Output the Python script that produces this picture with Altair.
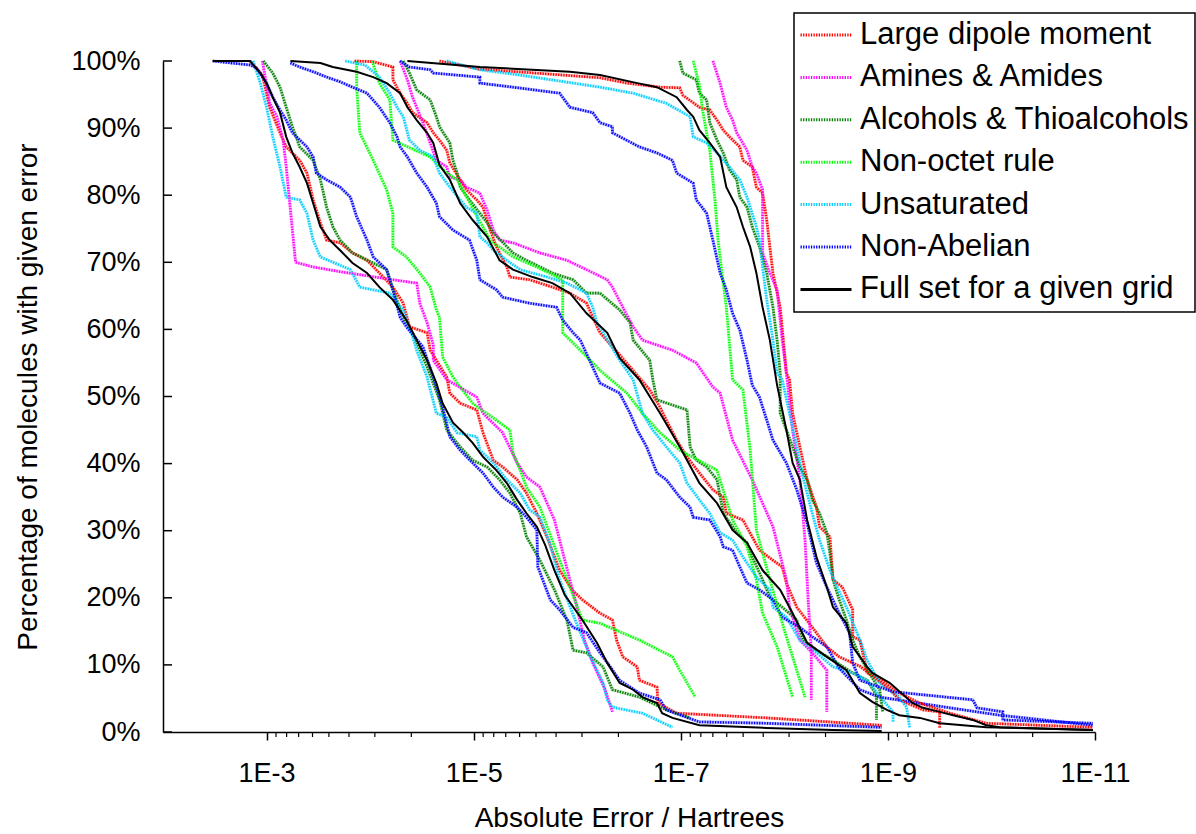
import altair as alt
import pandas as pd

# Legend order, colours and dash patterns for each molecule subset
SERIES = [
    "Large dipole moment",
    "Amines & Amides",
    "Alcohols & Thioalcohols",
    "Non-octet rule",
    "Unsaturated",
    "Non-Abelian",
    "Full set for a given grid",
]
COLORS = ["#ff0000", "#ff00ff", "#008000", "#00ff00", "#00ccff", "#0000ff", "#000000"]

# Each curve: (log10 of absolute error in Hartrees, % of molecules with at least that error)
# ---- coarsest grid ----
grid1_dipole = [(-2.84,100),(-2.96,97.9),(-3.03,93.1),(-3.13,89.3),(-3.19,87.2),(-3.32,85.2),(-3.39,83.3),(-3.45,79.3),(-3.52,75.9),(-3.58,73.3),(-3.71,72.9),(-3.83,71.4),(-3.97,70.3),(-4.09,68.4),(-4.22,66.3),(-4.32,63.9),(-4.38,60.4),(-4.55,59.5),(-4.58,56.9),(-4.74,52.9),(-4.77,50.5),(-4.87,49.0),(-5.03,48.0),(-5.09,44.6),(-5.19,40.5),(-5.28,39.5),(-5.42,37.6),(-5.51,35.6),(-5.61,32.6),(-5.72,28.6),(-5.83,24.1),(-5.95,21.2),(-6.05,19.7),(-6.22,17.7),(-6.34,16.7),(-6.38,13.7),(-6.44,11.2),(-6.58,9.7),(-6.60,7.7),(-6.77,6.7),(-6.78,4.3),(-6.96,2.8),(-7.83,2.1),(-8.94,1.0)]
grid1_amines = [(-2.96,100),(-3.03,93.7),(-3.10,91.7),(-3.16,88.2),(-3.19,84.2),(-3.28,70.0),(-3.45,69.3),(-3.71,68.6),(-4.22,67.4),(-4.45,66.9),(-4.48,63.9),(-4.55,61.0),(-4.61,57.7),(-4.61,55.4),(-4.74,52.5),(-5.03,49.9),(-5.09,47.5),(-5.28,44.6),(-5.42,40.1),(-5.51,38.0),(-5.64,36.5),(-5.78,31.6),(-5.88,25.6),(-5.98,19.7),(-6.07,13.7),(-6.15,10.3),(-6.27,6.3),(-6.34,3.0)]
grid1_alcohols = [(-2.97,100),(-3.06,98.2),(-3.13,96.1),(-3.19,93.1),(-3.25,90.2),(-3.32,87.2),(-3.45,85.2),(-3.52,82.3),(-3.58,78.2),(-3.64,75.3),(-3.71,73.3),(-3.83,71.4),(-4.03,69.9),(-4.16,68.9),(-4.22,65.9),(-4.32,61.8),(-4.41,59.5),(-4.55,54.4),(-4.67,49.5),(-4.74,45.0),(-4.87,42.5),(-4.99,40.5),(-5.13,39.5),(-5.25,37.6),(-5.35,35.6),(-5.45,32.6),(-5.51,29.1),(-5.64,25.6),(-5.78,21.2),(-5.90,16.7),(-5.96,12.2),(-6.09,11.8),(-6.25,9.7),(-6.34,6.3),(-6.60,5.2),(-6.86,3.3),(-7.09,2.1)]
grid1_nonoctet = [(-3.87,100),(-3.87,96.1),(-3.90,89.3),(-4.03,85.2),(-4.16,80.8),(-4.22,77.3),(-4.22,72.3),(-4.35,70.8),(-4.48,68.4),(-4.58,66.3),(-4.64,62.9),(-4.67,61.8),(-4.70,55.9),(-4.80,52.9),(-4.87,51.4),(-4.99,49.0),(-5.35,45.0),(-5.38,41.6),(-5.45,39.0),(-5.51,36.5),(-5.64,33.5),(-5.83,25.6),(-6.05,16.7),(-6.22,16.2),(-6.60,13.7),(-6.92,11.2),(-6.99,9.2),(-7.14,5.2)]
grid1_unsat = [(-2.87,100),(-2.94,96.7),(-3.00,93.1),(-3.06,88.7),(-3.13,84.2),(-3.19,79.7),(-3.32,79.3),(-3.39,77.3),(-3.45,73.3),(-3.52,70.8),(-3.81,68.9),(-3.90,66.3),(-4.19,65.4),(-4.32,62.9),(-4.41,58.9),(-4.45,56.9),(-4.55,52.9),(-4.64,47.5),(-4.74,46.9),(-4.84,44.6),(-5.03,44.0),(-5.06,42.0),(-5.19,40.1),(-5.32,37.6),(-5.45,35.6),(-5.54,33.1),(-5.64,32.0),(-5.74,27.9),(-5.83,22.7),(-5.98,16.7),(-6.12,11.5),(-6.25,7.3),(-6.29,4.8),(-6.34,3.7),(-6.63,2.8),(-6.92,0.7)]
grid1_nonabelian = [(-2.48,100),(-2.84,99.4),(-2.90,99.0),(-3.00,96.7),(-3.06,94.6),(-3.13,92.7),(-3.19,91.2),(-3.25,89.3),(-3.39,87.2),(-3.45,85.7),(-3.48,83.3),(-3.58,82.3),(-3.71,81.2),(-3.81,79.7),(-3.87,76.8),(-3.97,73.3),(-4.03,70.8),(-4.16,68.9),(-4.22,65.9),(-4.29,61.8),(-4.35,60.4),(-4.51,57.4),(-4.61,52.9),(-4.70,48.4),(-4.77,44.0),(-4.87,42.0),(-4.99,40.1),(-5.09,38.6),(-5.19,36.5),(-5.28,35.0),(-5.42,33.5),(-5.51,32.0),(-5.61,30.1),(-5.62,24.6),(-5.74,19.7),(-5.83,18.2),(-5.96,15.6),(-6.09,14.8),(-6.22,11.8),(-6.32,9.7),(-6.41,7.7),(-6.60,5.8),(-6.80,4.8),(-6.86,3.3),(-7.18,1.5),(-7.83,1.3),(-8.94,0.7)]
grid1_full = [(-2.48,100),(-2.84,100),(-2.94,98.2),(-3.00,96.7),(-3.06,94.6),(-3.13,92.3),(-3.19,88.7),(-3.25,86.3),(-3.32,84.2),(-3.39,81.8),(-3.45,78.8),(-3.52,75.3),(-3.61,73.3),(-3.71,71.8),(-3.83,69.9),(-3.97,68.4),(-4.09,66.3),(-4.22,64.4),(-4.35,61.4),(-4.45,58.4),(-4.55,55.4),(-4.64,52.0),(-4.70,49.0),(-4.80,46.1),(-4.90,44.6),(-4.99,43.1),(-5.09,41.0),(-5.22,39.0),(-5.32,37.1),(-5.42,34.6),(-5.51,32.6),(-5.61,30.6),(-5.69,27.9),(-5.78,24.1),(-5.88,20.4),(-6.05,16.7),(-6.19,13.3),(-6.29,10.3),(-6.41,7.3),(-6.54,6.3),(-6.63,5.2),(-6.77,4.3),(-6.82,2.8),(-6.92,2.1),(-7.18,1.0),(-7.83,0.6),(-8.47,0.3),(-8.94,0.15)]

# ---- medium grid ----
grid2_dipole = [(-3.85,100),(-4.03,99.9),(-4.22,99.1),(-4.22,97.2),(-4.29,95.2),(-4.36,93.7),(-4.41,92.3),(-4.55,90.8),(-4.61,89.3),(-4.67,88.2),(-4.74,86.7),(-4.77,84.8),(-4.87,82.3),(-4.93,80.8),(-5.03,79.3),(-5.09,78.2),(-5.16,74.8),(-5.22,72.3),(-5.32,69.3),(-5.35,67.8),(-5.54,67.4),(-5.76,66.3),(-5.93,65.4),(-6.09,63.9),(-6.15,61.8),(-6.22,59.5),(-6.41,56.2),(-6.70,51.0),(-6.80,48.4),(-6.86,46.5),(-6.96,43.5),(-7.06,41.0),(-7.18,38.6),(-7.31,36.1),(-7.41,35.0),(-7.44,32.6),(-7.60,31.6),(-7.76,27.1),(-7.89,25.6),(-7.98,24.6),(-8.02,22.2),(-8.12,18.6),(-8.27,15.6),(-8.41,12.7),(-8.53,11.2),(-8.73,9.8),(-9.02,6.3),(-9.11,4.8),(-9.34,3.3),(-9.50,3.0),(-9.50,0.6)]
grid2_amines = [(-4.29,100),(-4.36,97.2),(-4.41,94.6),(-4.51,90.8),(-4.58,87.8),(-4.64,85.2),(-4.74,84.2),(-4.77,82.7),(-4.87,82.3),(-4.93,81.2),(-5.06,80.3),(-5.13,77.8),(-5.19,74.8),(-5.25,73.3),(-5.38,72.9),(-5.64,71.4),(-5.90,70.3),(-6.09,68.9),(-6.29,67.4),(-6.34,66.3),(-6.44,63.3),(-6.54,60.4),(-6.63,58.4),(-6.92,56.9),(-7.15,55.0),(-7.31,51.4),(-7.38,50.5),(-7.50,43.5),(-7.69,37.6),(-7.89,30.6),(-8.02,22.7),(-8.05,18.6),(-8.15,13.7),(-8.27,11.8),(-8.41,9.2),(-8.41,3.0)]
grid2_alcohols = [(-4.32,100),(-4.38,98.2),(-4.45,95.7),(-4.58,94.2),(-4.64,91.7),(-4.67,90.2),(-4.77,87.8),(-4.80,85.2),(-4.84,83.3),(-4.87,81.2),(-4.96,79.3),(-5.06,77.3),(-5.13,75.9),(-5.19,74.4),(-5.38,71.4),(-5.51,70.3),(-5.76,68.4),(-5.96,67.4),(-6.09,65.4),(-6.22,65.4),(-6.41,62.9),(-6.51,61.0),(-6.54,58.4),(-6.70,55.4),(-6.73,52.5),(-6.77,49.5),(-7.06,48.0),(-7.09,42.5),(-7.15,40.5),(-7.25,39.5),(-7.35,37.6),(-7.41,32.6),(-7.54,29.7),(-7.64,28.2),(-7.69,26.1),(-7.79,22.7),(-7.86,20.1),(-7.98,18.6),(-8.12,16.7),(-8.18,13.7),(-8.31,12.2),(-8.47,10.7),(-8.66,8.8),(-8.80,7.7),(-8.89,5.5),(-8.89,1.8)]
grid2_nonoctet = [(-4.02,100),(-4.09,96.7),(-4.19,94.2),(-4.22,88.2),(-4.58,85.7),(-4.74,83.3),(-4.84,82.3),(-5.16,73.3),(-5.38,70.8),(-5.61,69.3),(-5.86,67.4),(-5.86,59.5),(-6.03,56.9),(-6.22,53.9),(-6.48,50.5),(-6.63,47.5),(-6.80,44.6),(-6.99,42.0),(-7.35,39.0),(-7.50,31.6),(-7.64,27.6),(-7.73,22.7),(-7.79,17.7),(-7.93,12.7),(-8.08,5.2)]
grid2_unsat = [(-3.76,100),(-3.95,99.4),(-4.09,97.6),(-4.19,95.2),(-4.26,93.1),(-4.32,91.7),(-4.38,88.2),(-4.48,86.7),(-4.61,85.7),(-4.67,83.3),(-4.77,81.2),(-4.87,79.3),(-4.93,78.2),(-5.03,77.3),(-5.06,73.8),(-5.13,72.9),(-5.19,71.8),(-5.32,70.3),(-5.45,68.9),(-5.71,67.8),(-5.90,66.9),(-6.09,65.4),(-6.15,63.3),(-6.19,61.0),(-6.25,59.5),(-6.41,55.4),(-6.54,52.5),(-6.63,47.5),(-6.73,45.0),(-6.86,42.5),(-6.99,40.1),(-7.06,37.1),(-7.18,34.6),(-7.28,32.6),(-7.38,29.7),(-7.50,28.6),(-7.60,26.1),(-7.73,23.1),(-7.86,21.2),(-7.89,18.6),(-8.02,17.1),(-8.15,13.7),(-8.31,11.8),(-8.47,9.7),(-8.66,8.8),(-8.80,7.7),(-8.95,4.8),(-9.05,3.0),(-9.05,1.5)]
grid2_nonabelian = [(-3.23,99.7),(-3.32,99.1),(-3.45,98.4),(-3.58,97.6),(-3.71,96.9),(-3.83,96.1),(-3.97,95.2),(-4.09,93.1),(-4.19,90.8),(-4.26,88.7),(-4.29,87.2),(-4.36,85.7),(-4.45,83.3),(-4.55,81.2),(-4.64,78.8),(-4.67,76.8),(-4.80,74.8),(-4.96,73.3),(-5.03,70.3),(-5.06,67.4),(-5.22,65.9),(-5.28,64.8),(-5.54,63.9),(-5.80,63.3),(-5.86,61.4),(-5.96,59.5),(-6.03,58.4),(-6.22,52.0),(-6.41,50.5),(-6.51,47.5),(-6.58,45.0),(-6.67,42.5),(-6.77,38.6),(-6.86,37.6),(-6.99,35.0),(-7.09,33.5),(-7.12,32.0),(-7.28,31.6),(-7.38,29.1),(-7.41,27.6),(-7.50,27.1),(-7.57,24.6),(-7.64,22.2),(-7.76,21.2),(-7.89,19.7),(-7.98,17.1),(-8.15,15.6),(-8.27,14.2),(-8.41,12.7),(-8.53,9.5),(-8.73,6.3),(-8.92,5.2),(-9.60,3.6),(-10.08,2.5),(-10.98,1.0)]
grid2_full = [(-3.23,100),(-3.52,99.7),(-3.64,99.1),(-3.87,98.4),(-4.03,97.6),(-4.16,96.7),(-4.29,95.2),(-4.36,93.1),(-4.45,91.2),(-4.55,89.3),(-4.61,87.8),(-4.67,84.5),(-4.77,82.3),(-4.87,78.8),(-4.99,76.3),(-5.13,73.8),(-5.25,70.3),(-5.38,68.9),(-5.57,67.8),(-5.76,66.9),(-5.93,65.4),(-6.09,62.4),(-6.29,59.5),(-6.41,55.7),(-6.60,52.5),(-6.80,47.5),(-6.99,42.5),(-7.18,37.1),(-7.35,34.1),(-7.50,30.1),(-7.64,28.2),(-7.79,24.1),(-7.96,21.2),(-8.08,17.7),(-8.22,13.3),(-8.41,11.2),(-8.60,9.2),(-8.73,5.8),(-8.85,4.5),(-8.99,3.3),(-9.11,2.5),(-9.31,2.1),(-9.50,1.3),(-9.95,0.7),(-10.98,0.3)]

# ---- finest grid ----
grid3_dipole = [(-4.67,100),(-5.06,98.8),(-6.22,97.5),(-6.48,96.7),(-6.80,96.1),(-6.99,96.0),(-7.02,94.9),(-7.18,93.1),(-7.28,92.7),(-7.35,91.2),(-7.41,89.7),(-7.47,88.7),(-7.57,87.2),(-7.60,85.2),(-7.69,84.2),(-7.73,81.2),(-7.79,80.3),(-7.83,76.3),(-7.86,72.3),(-7.89,68.4),(-7.96,63.3),(-8.02,53.5),(-8.05,52.5),(-8.08,47.5),(-8.15,42.5),(-8.22,37.6),(-8.31,33.5),(-8.34,30.6),(-8.44,29.1),(-8.47,22.7),(-8.56,21.6),(-8.66,18.2),(-8.66,14.2),(-8.73,13.7),(-8.80,8.8),(-8.89,8.2),(-9.11,5.8),(-9.31,4.3),(-9.60,2.8),(-9.95,1.3),(-10.98,0.7)]
grid3_amines = [(-7.31,100),(-7.38,96.7),(-7.44,93.1),(-7.50,91.2),(-7.54,89.3),(-7.64,86.7),(-7.69,84.2),(-7.73,83.3),(-7.79,80.8),(-7.79,71.4),(-7.86,68.4),(-7.93,65.9),(-7.98,58.4),(-8.02,53.5),(-8.08,45.0),(-8.15,37.6),(-8.20,28.6),(-8.23,19.7),(-8.26,12.2),(-8.26,4.8)]
grid3_alcohols = [(-6.99,100),(-7.02,98.2),(-7.15,97.2),(-7.18,95.2),(-7.25,94.2),(-7.28,90.8),(-7.35,88.2),(-7.41,86.3),(-7.47,83.8),(-7.54,82.3),(-7.57,79.7),(-7.64,78.2),(-7.69,75.3),(-7.76,72.3),(-7.83,68.4),(-7.89,63.3),(-7.93,58.4),(-7.96,53.5),(-7.96,47.5),(-8.02,45.0),(-8.08,42.5),(-8.15,39.5),(-8.22,37.6),(-8.27,34.6),(-8.34,32.6),(-8.41,29.7),(-8.44,26.7),(-8.47,22.7),(-8.53,19.7),(-8.60,16.7),(-8.66,13.7),(-8.73,11.2),(-8.82,8.8),(-8.92,6.3),(-8.95,3.0)]
grid3_nonoctet = [(-7.12,100),(-7.18,96.4),(-7.21,92.7),(-7.28,86.7),(-7.33,79.3),(-7.36,73.3),(-7.40,68.1),(-7.44,63.3),(-7.50,52.5),(-7.60,51.0),(-7.67,42.0),(-7.73,30.1),(-7.86,22.7),(-8.00,15.2),(-8.12,9.2),(-8.20,5.2)]
grid3_unsat = [(-4.74,100),(-5.06,98.7),(-5.45,97.9),(-6.22,96.1),(-6.54,95.2),(-6.86,93.7),(-7.09,91.7),(-7.12,88.7),(-7.25,87.8),(-7.35,86.3),(-7.47,84.2),(-7.57,82.3),(-7.64,79.7),(-7.67,78.2),(-7.73,75.3),(-7.76,73.3),(-7.79,69.3),(-7.83,64.4),(-7.89,58.4),(-7.93,53.5),(-7.98,52.5),(-8.05,47.5),(-8.12,42.5),(-8.18,38.0),(-8.27,32.6),(-8.34,28.6),(-8.44,24.1),(-8.51,21.6),(-8.60,18.6),(-8.73,13.7),(-8.80,10.7),(-8.92,7.3),(-9.11,5.2),(-9.18,3.7),(-9.21,0.7)]
grid3_nonabelian = [(-4.29,100),(-4.38,99.1),(-4.58,98.7),(-4.61,98.2),(-5.06,97.6),(-5.06,96.7),(-5.38,96.1),(-5.83,95.2),(-5.93,93.1),(-6.15,92.3),(-6.22,90.8),(-6.34,90.2),(-6.34,89.3),(-6.60,87.2),(-6.77,86.3),(-6.92,85.2),(-6.96,83.3),(-7.12,81.8),(-7.15,79.3),(-7.25,77.3),(-7.31,73.3),(-7.38,68.4),(-7.44,65.9),(-7.50,62.4),(-7.57,59.9),(-7.64,55.4),(-7.69,51.7),(-7.76,49.9),(-7.83,46.5),(-7.89,43.5),(-8.02,40.1),(-8.12,36.1),(-8.22,31.1),(-8.31,25.2),(-8.41,21.6),(-8.53,17.7),(-8.63,14.8),(-8.66,10.3),(-8.73,7.7),(-9.05,6.0),(-9.82,4.8),(-9.86,3.6),(-10.11,3.0),(-10.11,1.8),(-10.98,1.3)]
grid3_full = [(-4.36,100),(-5.06,99.1),(-5.93,98.4),(-6.22,97.9),(-6.58,96.7),(-6.77,96.1),(-6.96,94.6),(-7.06,92.7),(-7.12,91.7),(-7.18,89.7),(-7.28,87.8),(-7.38,85.7),(-7.44,81.2),(-7.54,78.2),(-7.60,75.3),(-7.67,72.3),(-7.73,68.4),(-7.79,63.3),(-7.86,58.4),(-7.93,51.7),(-8.02,45.0),(-8.08,40.1),(-8.15,37.6),(-8.22,31.6),(-8.31,26.1),(-8.41,21.6),(-8.47,18.6),(-8.60,16.2),(-8.66,12.7),(-8.80,9.7),(-8.85,8.8),(-9.02,7.3),(-9.24,4.3),(-9.34,3.6),(-9.50,3.0),(-9.63,2.5),(-9.82,1.8),(-9.95,1.0),(-10.08,0.7),(-10.98,0.3)]

CURVES = {
    "grid 1": [grid1_dipole, grid1_amines, grid1_alcohols, grid1_nonoctet, grid1_unsat, grid1_nonabelian, grid1_full],
    "grid 2": [grid2_dipole, grid2_amines, grid2_alcohols, grid2_nonoctet, grid2_unsat, grid2_nonabelian, grid2_full],
    "grid 3": [grid3_dipole, grid3_amines, grid3_alcohols, grid3_nonoctet, grid3_unsat, grid3_nonabelian, grid3_full],
}

# Axis ticks: labelled decades and the minor ticks between them
MAJOR_TICKS = [1e-3, 1e-5, 1e-7, 1e-9, 1e-11]
MINOR_FACTORS = [0.81, 0.64, 0.49, 0.36, 0.25, 0.16, 0.09, 0.04]
PCT_TICKS = list(range(0, 101, 10))

rows = []
for grid, curves in CURVES.items():
    for name, pts in zip(SERIES, curves):
        for i, (e, p) in enumerate(pts):
            rows.append({"grid": grid, "series": name, "idx": i, "error": 10.0 ** e, "pct": p})
df = pd.DataFrame(rows)

minor_df = pd.DataFrame({"v": [m * f for m in MAJOR_TICKS[:-1] for f in MINOR_FACTORS]})
pct_df = pd.DataFrame({"v": PCT_TICKS})

FONT = "Liberation Sans"
W, H = 932, 671
DOT = [1.3, 1.3]

x_scale = alt.Scale(type="log", domain=[1e-11, 1e-2], reverse=True, nice=False)
y_scale = alt.Scale(domain=[0, 100], nice=False)

x_axis = alt.Axis(
    values=MAJOR_TICKS,
    labelExpr="'1E' + round(log(datum.value) / LN10)",
    title="Absolute Error / Hartrees",
    grid=False, tickSize=8, tickColor="black", tickWidth=1.5,
    domainColor="black", domainWidth=1.5,
    labelFont=FONT, labelFontSize=27, labelColor="black", labelPadding=20,
    labelFlush=False, labelOverlap=False,
    titleFont=FONT, titleFontSize=28, titleFontWeight="normal", titleColor="black",
    titlePadding=18,
)
y_axis = alt.Axis(
    values=PCT_TICKS,
    labelExpr="datum.value + '%'",
    title="Percentage of molecules with given error",
    grid=False, ticks=False,
    domainColor="black", domainWidth=1.5,
    labelFont=FONT, labelFontSize=27, labelColor="black", labelPadding=23,
    titleFont=FONT, titleFontSize=28, titleFontWeight="normal", titleColor="black",
    titlePadding=28,
)

# legend symbols: dotted for the subsets, solid for the full set
legend = alt.Legend(
    title=None, orient="none", legendX=631, legendY=-48,
    symbolType="stroke", symbolSize=2601, symbolStrokeWidth=3, symbolOpacity=1,
    symbolDash=alt.ExprRef(
        expr="datum.value === '%s' ? [1, 0] : [%g, %g]" % (SERIES[-1], DOT[0], DOT[1])
    ),
    labelFont=FONT, labelFontSize=31, labelColor="black", labelLimit=500, labelOffset=7,
    clipHeight=34, rowPadding=8.4, padding=5,
    fillColor="white", strokeColor="black",
)

color = alt.Color("series:N", scale=alt.Scale(domain=SERIES, range=COLORS), legend=legend)

X = alt.X("error:Q", scale=x_scale, axis=x_axis)
Y = alt.Y("pct:Q", scale=y_scale, axis=y_axis)

subsets = df[df.series != SERIES[-1]]
full = df[df.series == SERIES[-1]]

tint = alt.Chart(subsets).mark_line(strokeWidth=3.2, opacity=0.28).encode(
    x=X, y=Y, color=color, detail="grid:N", order="idx:Q"
)
dotted = alt.Chart(subsets).mark_line(strokeWidth=2.6, strokeDash=DOT).encode(
    x=X, y=Y, color=color, detail="grid:N", order="idx:Q"
)
solid = alt.Chart(full).mark_line(strokeWidth=2).encode(
    x=X, y=Y, color=color, detail="grid:N", order="idx:Q"
)

minor_ticks = alt.Chart(minor_df).mark_rule(color="black", strokeWidth=1.2).encode(
    x=alt.X("v:Q", scale=x_scale, axis=x_axis),
    y=alt.value(H), y2=alt.value(H + 5),
)
pct_ticks = alt.Chart(pct_df).mark_rule(color="black", strokeWidth=1.5).encode(
    y=alt.Y("v:Q", scale=y_scale, axis=y_axis),
    x=alt.value(0), x2=alt.value(9),
)

chart = (
    alt.layer(tint, dotted, solid, minor_ticks, pct_ticks)
    .properties(
        width=W, height=H,
        autosize=alt.AutoSizeParams(type="none"),
        padding={"left": 163, "top": 61, "right": 101, "bottom": 102},
        background="white",
    )
    .configure_view(stroke=None)
    .configure_legend(strokeWidth=1.5)
)

chart.save("out.html", embed_options={"renderer": "svg", "actions": False})
